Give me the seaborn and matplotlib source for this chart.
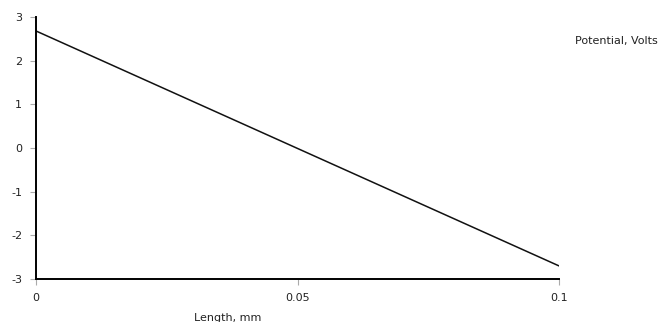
import matplotlib
matplotlib.use("Agg")
import matplotlib.pyplot as plt
import seaborn as sns
import pandas as pd

length_mm = [0.0, 0.1]
potential_v = [2.68, -2.7]
x_ticks = [0, 0.05, 0.1]
x_tick_labels = ["0", "0.05", "0.1"]
y_ticks = [-3, -2, -1, 0, 1, 2, 3]
y_tick_labels = ["-3", "-2", "-1", "0", "1", "2", "3"]

sns.set_style("white")
plt.rcParams['font.family'] = ['DejaVu Sans']
plt.rcParams['axes.unicode_minus'] = False

df = pd.DataFrame({"Length": length_mm, "Potential": potential_v})

fig = plt.figure(figsize=(6.59, 3.22), dpi=100)
ax = fig.add_axes([36/659, 1-279/322, (559-36)/659, (279-17)/322])
sns.lineplot(data=df, x="Length", y="Potential", ax=ax, color="#111111", linewidth=1.1)

ax.set_xlim(0, 0.1)
ax.set_ylim(-3, 3)
ax.set_xticks(x_ticks)
ax.set_xticklabels(x_tick_labels)
ax.set_yticks(y_ticks)
ax.set_yticklabels(y_tick_labels)
ax.set_xlabel("")
ax.set_ylabel("")
for s in ["top", "right"]:
    ax.spines[s].set_visible(False)
for s in ["left", "bottom"]:
    ax.spines[s].set_color("#000000")
    ax.spines[s].set_linewidth(1.4)
ax.tick_params(axis="both", which="major", length=4, width=0.8, color="#aaaaaa",
               labelsize=8, labelcolor="#222222", direction="out", left=True, bottom=True)
ax.tick_params(axis="x", pad=6)
ax.tick_params(axis="y", pad=6)

fig.text(228/659, 1-318/322, "Length, mm", fontsize=8, color="#222222", ha="center", va="center")
fig.text(616/659, 1-41/322, "Potential, Volts", fontsize=8, color="#222222", ha="center", va="center")

fig.savefig("out.png", dpi=100)
